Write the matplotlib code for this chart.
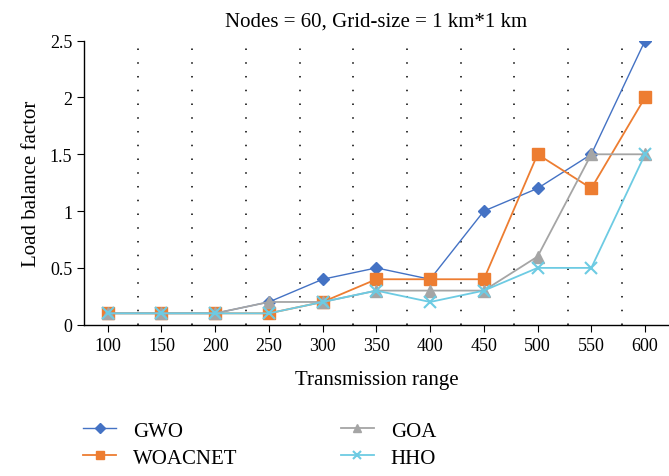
import matplotlib.pyplot as plt

plt.rcParams['font.family'] = ['Liberation Serif', 'DejaVu Serif']

ranges = [100, 150, 200, 250, 300, 350, 400, 450, 500, 550, 600]
gwo = [0.1, 0.1, 0.1, 0.2, 0.4, 0.5, 0.4, 1.0, 1.2, 1.5, 2.5]
woacnet = [0.1, 0.1, 0.1, 0.1, 0.2, 0.4, 0.4, 0.4, 1.5, 1.2, 2.0]
goa = [0.1, 0.1, 0.1, 0.2, 0.2, 0.3, 0.3, 0.3, 0.6, 1.5, 1.5]
hho = [0.1, 0.1, 0.1, 0.1, 0.2, 0.3, 0.2, 0.3, 0.5, 0.5, 1.5]
y_ticks = [0, 0.5, 1, 1.5, 2, 2.5]
y_labels = ['0', '0.5', '1', '1.5', '2', '2.5']

fig = plt.figure(figsize=(6.69, 4.77), dpi=100)
ax = fig.add_axes([0.1256, 0.3172, 0.8744, 0.5954])

# dotted separators between the categories
for x in ranges[:-1]:
    ax.axvline(x + 28.5, color='black', linestyle=(0, (1, 8)), linewidth=1.1, zorder=0)

ax.plot(ranges, gwo, color='#4472C4', marker='D', markersize=6, linewidth=1.0, label='GWO')
ax.plot(ranges, woacnet, color='#ED7D31', marker='s', markersize=8, linewidth=1.3, label='WOACNET')
ax.plot(ranges, goa, color='#A5A5A5', marker='^', markersize=8, linewidth=1.3, label='GOA')
ax.plot(ranges, hho, color='#6DCBE3', marker='x', markersize=8, markeredgewidth=1.5, linewidth=1.3, label='HHO')

ax.set_xlim(77.9, 622.3)
ax.set_ylim(0, 2.5)
ax.set_xticks(ranges)
ax.set_yticks(y_ticks)
ax.set_yticklabels(y_labels)
ax.tick_params(labelsize=13, direction='out', length=5, colors='black')
for s in ['top', 'right']:
    ax.spines[s].set_visible(False)
ax.spines['left'].set_linewidth(1.0)
ax.spines['bottom'].set_linewidth(1.0)

ax.set_xlabel('Transmission range', fontsize=15, labelpad=12)
ax.set_ylabel('Load balance factor', fontsize=15, labelpad=6)
ax.set_title('Nodes = 60, Grid-size = 1 km*1 km', fontsize=15, pad=11)

ax.legend(loc='upper left', bbox_to_anchor=(0.0961, 0.1543), bbox_transform=fig.transFigure,
          ncol=2, frameon=False, fontsize=15, columnspacing=4.95, handlelength=1.6,
          handletextpad=0.8, labelspacing=0.35, markerscale=0.8)

plt.savefig('out.png', dpi=100)
